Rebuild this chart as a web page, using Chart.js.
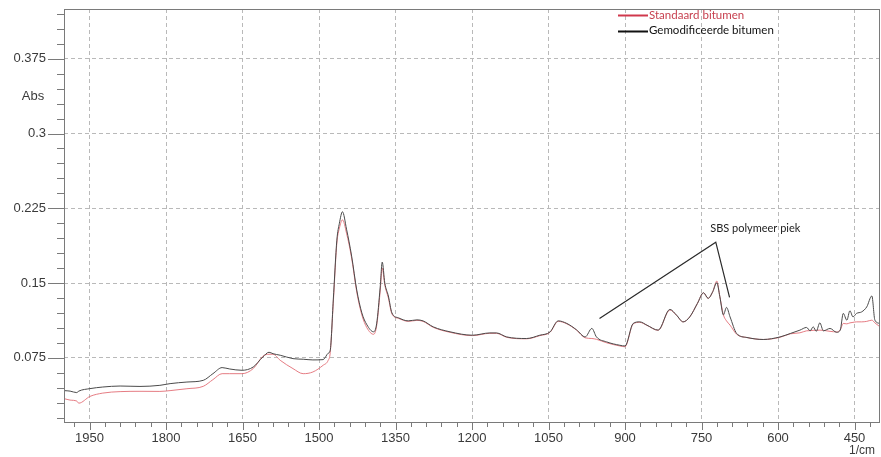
<!DOCTYPE html>
<html>
<head>
<meta charset="utf-8">
<script src="https://cdn.jsdelivr.net/npm/chart.js@4"></script>
<style>
  html, body { margin: 0; padding: 0; background: #fff; }
  #wrap { position: relative; width: 881px; height: 457px; }
</style>
</head>
<body>
<div id="wrap"><canvas id="ftir" width="881" height="457"></canvas></div>
<script>
// FTIR spectra: standard vs SBS-modified bitumen, absorbance against wavenumber.
const wavenumbers = [
  2000, 1988, 1975, 1971, 1949, 1924, 1890, 1851, 1812, 1792,
  1759, 1727, 1708, 1690, 1675, 1651, 1629, 1610, 1598, 1590,
  1576, 1551, 1531, 1512, 1492, 1482, 1478, 1472, 1465, 1460,
  1454, 1446, 1436, 1426, 1416, 1406, 1393, 1387, 1380, 1376,
  1371, 1364, 1357, 1344, 1325, 1308, 1296, 1276, 1243, 1199,
  1165, 1152, 1132, 1093, 1067, 1047, 1031, 1014, 995, 978,
  965, 956, 936, 910, 900, 884, 871, 857, 835, 812,
  799, 786, 773, 758, 746, 737, 728, 720, 714, 707,
  701, 694, 681, 661, 629, 596, 576, 557, 544, 537,
  531, 525, 518, 511, 498, 485, 478, 472, 465, 459,
  453, 446, 436, 426, 416, 410, 400
];
const gemodificeerd = [
  0.0420, 0.0415, 0.0400, 0.0415, 0.0440, 0.0456, 0.0466, 0.0462, 0.0473, 0.0490,
  0.0506, 0.0523, 0.0590, 0.0651, 0.0637, 0.0624, 0.0657, 0.0758, 0.0805, 0.0790,
  0.0775, 0.0741, 0.0735, 0.0728, 0.0731, 0.0795, 0.0825, 0.1330, 0.1930, 0.2100,
  0.2215, 0.2040, 0.1770, 0.1430, 0.1200, 0.1080, 0.1010, 0.1090, 0.1460, 0.1710,
  0.1500, 0.1370, 0.1200, 0.1150, 0.1120, 0.1130, 0.1120, 0.1060, 0.1010, 0.0976,
  0.0999, 0.0999, 0.0959, 0.0943, 0.0976, 0.1009, 0.1120, 0.1094, 0.1030, 0.0959,
  0.1044, 0.0959, 0.0909, 0.0875, 0.0868, 0.1094, 0.1110, 0.1077, 0.1027, 0.1235,
  0.1178, 0.1110, 0.1160, 0.1295, 0.1402, 0.1346, 0.1412, 0.1503, 0.1362, 0.1180,
  0.1255, 0.1160, 0.0993, 0.0953, 0.0933, 0.0959, 0.0993, 0.1027, 0.1054, 0.1020,
  0.1060, 0.1015, 0.1100, 0.1020, 0.1044, 0.1005, 0.1027, 0.1195, 0.1127, 0.1221,
  0.1160, 0.1195, 0.1210, 0.1260, 0.1370, 0.1127, 0.1094
];
const standaard = [
  0.0340, 0.0325, 0.0315, 0.0294, 0.0362, 0.0395, 0.0410, 0.0413, 0.0412, 0.0420,
  0.0439, 0.0463, 0.0530, 0.0590, 0.0590, 0.0590, 0.0641, 0.0765, 0.0785, 0.0785,
  0.0724, 0.0641, 0.0590, 0.0607, 0.0674, 0.0724, 0.0800, 0.1300, 0.1900, 0.2050,
  0.2134, 0.2000, 0.1750, 0.1410, 0.1180, 0.1050, 0.0985, 0.1070, 0.1420, 0.1651,
  0.1480, 0.1350, 0.1190, 0.1145, 0.1115, 0.1125, 0.1115, 0.1055, 0.1005, 0.0972,
  0.0995, 0.0995, 0.0955, 0.0940, 0.0972, 0.1005, 0.1115, 0.1090, 0.1027, 0.0950,
  0.0943, 0.0935, 0.0900, 0.0868, 0.0860, 0.1090, 0.1105, 0.1075, 0.1025, 0.1230,
  0.1175, 0.1110, 0.1160, 0.1295, 0.1402, 0.1346, 0.1412, 0.1520, 0.1362, 0.1180,
  0.1120, 0.1077, 0.0985, 0.0953, 0.0933, 0.0955, 0.0990, 0.1000, 0.1020, 0.1022,
  0.1025, 0.1025, 0.1027, 0.1025, 0.1015, 0.1009, 0.1030, 0.1094, 0.1090, 0.1100,
  0.1105, 0.1110, 0.1110, 0.1115, 0.1127, 0.1100, 0.1060
];

// tick labels
const xMajor = [1950, 1800, 1650, 1500, 1350, 1200, 1050, 900, 750, 600, 450];
const yMajor = [0.075, 0.15, 0.225, 0.3, 0.375];

// "SBS polymeer piek" callout (data coordinates)
const calloutX = [950, 722, 695];
const calloutY = [0.1144, 0.191, 0.1356];
const calloutLabel = "SBS polymeer piek";

const seriesNames = ["Standaard bitumen", "Gemodificeerde bitumen"];

const X_MIN = 400, X_MAX = 2000, Y_MIN = 0.0105, Y_MAX = 0.425;
const xMinor = [], yMinor = [];
for (let w = 420; w <= 1980; w += 30) xMinor.push(w);
for (let k = 1; k <= 28; k++) yMinor.push(+(k * 0.015).toFixed(3));

const isMajor = (list, v) => list.some(m => Math.abs(m - v) < 1e-6);
const pts = ys => wavenumbers.map((w, i) => ({ x: w, y: ys[i] }));

const AXIS = "#7a7a7a", GRID = "#b9b9b9", TXT = "#3a3a3a";

const decor = {
  id: "decor",
  afterDraw(chart) {
    const { ctx, chartArea: a, scales: { x, y } } = chart;
    ctx.save();
    ctx.strokeStyle = AXIS;
    ctx.lineWidth = 1;
    ctx.strokeRect(Math.round(a.left) + 0.5, Math.round(a.top) + 0.5,
                   Math.round(a.right - a.left) - 1, Math.round(a.bottom - a.top));
    // tick marks, minor every 0.015 / 30 cm-1
    ctx.beginPath();
    for (const v of yMinor) {
      const py = Math.round(y.getPixelForValue(v)) + 0.5;
      const len = isMajor(yMajor, v) ? 16 : 7;
      ctx.moveTo(a.left - len, py); ctx.lineTo(a.left, py);
    }
    for (const v of xMinor) {
      const px = Math.round(x.getPixelForValue(v)) + 0.5;
      const len = isMajor(xMajor, v) ? 8 : 5;
      ctx.moveTo(px, a.bottom); ctx.lineTo(px, a.bottom + len);
    }
    ctx.stroke();

    // axis titles
    ctx.fillStyle = TXT;
    ctx.font = "13px 'Liberation Sans', Arial, sans-serif";
    ctx.textAlign = "center"; ctx.textBaseline = "middle";
    ctx.fillText("Abs", 33, y.getPixelForValue(0.3375));
    ctx.font = "12px 'Liberation Sans', Arial, sans-serif";
    ctx.fillText("1/cm", 862, 451);

    // callout text
    ctx.font = "11px Lato, 'Open Sans', sans-serif";
    ctx.fillStyle = "#222";
    ctx.textAlign = "left";
    ctx.fillText(calloutLabel, x.getPixelForValue(733), y.getPixelForValue(0.2044));

    // legend (sits over the top frame line)
    ctx.font = "11.5px Lato, 'Open Sans', sans-serif";
    const lg = [
      { c: "#d0384c", t: "#c7404f", name: seriesNames[0], ly: 15.5, ty: 15.5 },
      { c: "#111", t: "#111", name: seriesNames[1], ly: 31.5, ty: 30 }
    ];
    for (const it of lg) {
      ctx.strokeStyle = it.c; ctx.lineWidth = 2;
      ctx.beginPath(); ctx.moveTo(618, it.ly); ctx.lineTo(648, it.ly); ctx.stroke();
      ctx.fillStyle = it.t;
      ctx.fillText(it.name, 649, it.ty);
    }
    ctx.restore();
  }
};

new Chart(document.getElementById("ftir"), {
  type: "line",
  data: {
    datasets: [
      { label: seriesNames[1], data: pts(gemodificeerd), borderColor: "#4a4a4a", borderWidth: 1,
        cubicInterpolationMode: "monotone" },
      { label: seriesNames[0], data: pts(standaard), borderColor: "rgba(226,110,118,0.9)", borderWidth: 1,
        cubicInterpolationMode: "monotone" },
      { label: "callout", data: calloutX.map((w, i) => ({ x: w, y: calloutY[i] })),
        borderColor: "#2a2a2a", borderWidth: 1.2 }
    ]
  },
  options: {
    responsive: false,
    animation: false,
    events: [],
    layout: { padding: { top: 9, right: 1, left: 0, bottom: 0 } },
    elements: { point: { radius: 0 }, line: { tension: 0 } },
    plugins: { legend: { display: false }, tooltip: { enabled: false } },
    scales: {
      x: {
        type: "linear", reverse: true, min: X_MIN, max: X_MAX,
        afterBuildTicks: s => { s.ticks = xMajor.map(v => ({ value: v })); },
        afterFit: s => { s.height = 35; s.paddingLeft = 0; s.paddingRight = 0; },
        border: { display: false, dash: [4, 3] },
        grid: { drawTicks: false, color: GRID },
        ticks: {
          autoSkip: false, maxRotation: 0, padding: 9, color: TXT,
          font: { family: "'Liberation Sans', Arial, sans-serif", size: 13 },
          callback: v => String(v)
        }
      },
      y: {
        min: Y_MIN, max: Y_MAX,
        afterBuildTicks: s => { s.ticks = yMajor.map(v => ({ value: v })); },
        afterFit: s => { s.width = 64; s.paddingTop = 0; s.paddingBottom = 0; },
        border: { display: false, dash: [4, 3] },
        grid: { drawTicks: false, color: GRID },
        ticks: {
          autoSkip: false, padding: 18, color: TXT,
          font: { family: "'Liberation Sans', Arial, sans-serif", size: 13 },
          callback: v => String(+v.toFixed(3))
        }
      }
    }
  },
  plugins: [decor]
});
</script>
</body>
</html>
